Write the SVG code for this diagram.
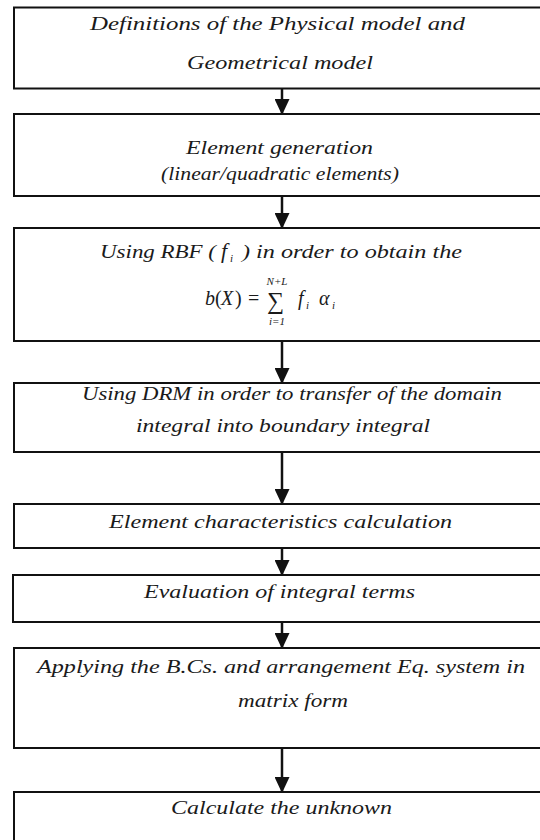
<svg xmlns="http://www.w3.org/2000/svg" width="540" height="840" viewBox="0 0 540 840">
<defs>
<style>
.box{fill:#fff;stroke:#111;stroke-width:2}
.t{font-family:"Liberation Serif","Times New Roman",serif;font-style:italic;font-size:18px;fill:#1a1a1a}
.m{font-family:"Liberation Serif","Times New Roman",serif;font-size:20px;fill:#1a1a1a}
.f{font-family:"Liberation Serif","Times New Roman",serif;font-style:italic;font-size:20px;fill:#1a1a1a}
.s{font-family:"Liberation Serif","Times New Roman",serif;font-style:italic;font-size:11px;fill:#1a1a1a}
.c{stroke:#111;stroke-width:2.5;fill:none}
</style>
<marker id="ah" markerUnits="userSpaceOnUse" markerWidth="16" markerHeight="15" viewBox="0 0 16 15" refX="15" refY="7.5" orient="auto">
<path d="M0,0 L16,7.5 L0,15 Z" fill="#111"/>
</marker>
</defs>
<rect width="540" height="840" fill="#fff"/>

<g id="connectors">
<line class="c" x1="282" y1="88" x2="282" y2="114" marker-end="url(#ah)"/>
<line class="c" x1="282" y1="196" x2="282" y2="228" marker-end="url(#ah)"/>
<line class="c" x1="282" y1="341" x2="282" y2="383" marker-end="url(#ah)"/>
<line class="c" x1="282" y1="452" x2="282" y2="504" marker-end="url(#ah)"/>
<line class="c" x1="282" y1="548" x2="282" y2="575" marker-end="url(#ah)"/>
<line class="c" x1="282" y1="622" x2="282" y2="648" marker-end="url(#ah)"/>
<line class="c" x1="282" y1="748" x2="282" y2="792" marker-end="url(#ah)"/>
</g>

<g id="n1">
<rect class="box" x="14" y="7.5" width="540" height="81"/>
<text class="t" x="90" y="30" textLength="375" lengthAdjust="spacingAndGlyphs">Definitions of the Physical model and</text>
<text class="t" x="187" y="69" textLength="186" lengthAdjust="spacingAndGlyphs">Geometrical model</text>
</g>

<g id="n2">
<rect class="box" x="14" y="114" width="540" height="82"/>
<text class="t" x="186" y="154" textLength="187" lengthAdjust="spacingAndGlyphs">Element generation</text>
<text class="t" x="161" y="180" textLength="238" lengthAdjust="spacingAndGlyphs">(linear/quadratic elements)</text>
</g>

<g id="n3">
<rect class="box" x="14" y="228" width="540" height="113"/>
<text class="t" x="100" y="258" textLength="116" lengthAdjust="spacingAndGlyphs">Using RBF (</text>
<text class="t" x="221" y="258" style="font-size:22px">f</text>
<text class="s" x="230" y="262">i</text>
<text class="t" x="242" y="258" textLength="220" lengthAdjust="spacingAndGlyphs">) in order to obtain the</text>
<text class="f" x="205" y="305">b</text>
<text class="m" x="215" y="305">(</text>
<text class="f" x="221" y="305">X</text>
<text class="m" x="235" y="305">)</text>
<text class="m" x="248" y="305">=</text>
<text class="m" x="267" y="309" style="font-size:24px">∑</text>
<text class="s" x="277" y="285" text-anchor="middle">N+L</text>
<text class="s" x="277" y="325" text-anchor="middle">i=1</text>
<text class="f" x="298" y="305">f</text>
<text class="s" x="306" y="309">i</text>
<text class="f" x="319" y="305">α</text>
<text class="s" x="332" y="309">i</text>
</g>

<g id="n4">
<rect class="box" x="14" y="383" width="540" height="69"/>
<text class="t" x="82" y="400" textLength="420" lengthAdjust="spacingAndGlyphs">Using DRM in order to transfer of the domain</text>
<text class="t" x="136" y="432" textLength="294" lengthAdjust="spacingAndGlyphs">integral into boundary integral</text>
</g>

<g id="n5">
<rect class="box" x="14" y="504" width="540" height="44"/>
<text class="t" x="109" y="528" textLength="343" lengthAdjust="spacingAndGlyphs">Element characteristics calculation</text>
</g>

<g id="n6">
<rect class="box" x="13" y="575" width="540" height="47"/>
<text class="t" x="144" y="598" textLength="271" lengthAdjust="spacingAndGlyphs">Evaluation of integral terms</text>
</g>

<g id="n7">
<rect class="box" x="14" y="648" width="540" height="100"/>
<text class="t" x="37" y="673" textLength="488" lengthAdjust="spacingAndGlyphs">Applying the B.Cs. and arrangement Eq. system in</text>
<text class="t" x="238" y="707" textLength="110" lengthAdjust="spacingAndGlyphs">matrix form</text>
</g>

<g id="n8">
<rect class="box" x="14" y="792" width="540" height="60"/>
<text class="t" x="171" y="814" textLength="221" lengthAdjust="spacingAndGlyphs">Calculate the unknown</text>
</g>
</svg>
